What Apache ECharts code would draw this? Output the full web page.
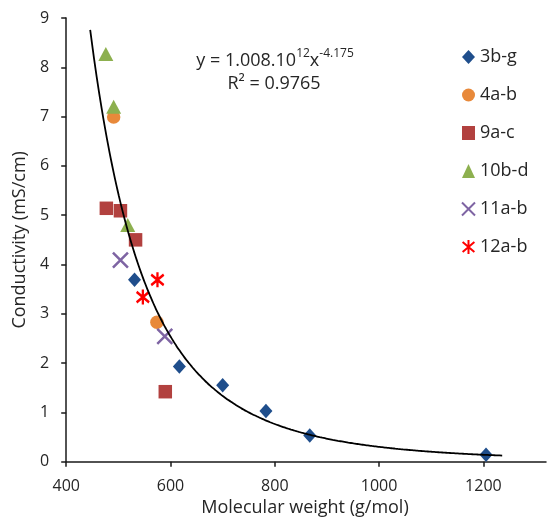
<!DOCTYPE html>
<html>
<head>
<meta charset="utf-8">
<script src="https://cdn.jsdelivr.net/npm/echarts@6/dist/echarts.min.js"></script>
<style>
  html, body { margin: 0; padding: 0; background: #fff; }
  #chart { width: 558px; height: 517px; }
</style>
</head>
<body>
<div id="chart"></div>
<script>
// Conductivity vs molecular weight, grouped by compound family
const seriesNames = ['3b-g', '4a-b', '9a-c', '10b-d', '11a-b', '12a-b'];
const data3bg  = [[531, 3.69], [617, 1.93], [700, 1.55], [783, 1.03], [867, 0.53], [1205, 0.14]];
const data4ab  = [[491, 6.99], [574, 2.83]];
const data9ac  = [[477, 5.14], [504, 5.09], [533, 4.50], [590, 1.42]];
const data10bd = [[476, 8.27], [491, 7.20], [518, 4.80]];
const data11ab = [[504, 4.09], [589, 2.54]];
const data12ab = [[575, 3.69], [547, 3.34]];

// Power-law fit y = a * x^b, as printed on the chart
const fitCoef = 1.008e12;
const fitExp = -4.175;
const fitRange = [446, 1236];
const fitR2 = '0.9765';

// Axis extents and tick labels
const xRange = [400, 1320];
const xTickValues = [400, 600, 800, 1000, 1200];
const yRange = [0, 9];
const yInterval = 1;

const fitLine = [];
for (let x = fitRange[0]; x <= fitRange[1]; x += 5) {
  fitLine.push([x, fitCoef * Math.pow(x, fitExp)]);
}

const FONT = 'Open Sans';
const TEXT = '#262626';

const xPath = 'path://M0,0L10,10M10,0L0,10';
const starPath = 'path://M5,0L5,10M0.8,1.5L9.2,8.5M9.2,1.5L0.8,8.5';

const chart = echarts.init(document.getElementById('chart'), null, { renderer: 'canvas' });

chart.setOption({
  animation: false,
  backgroundColor: '#fff',
  textStyle: { fontFamily: FONT, color: TEXT },
  grid: { left: 66.2, top: 18, right: 12, bottom: 55.3, containLabel: false },
  title: [
    {
      text: '{t|y = 1.008.10}{s|12}{t|x}{s|-4.175}',
      left: 270, top: 43, textAlign: 'center',
      textStyle: {
        fontWeight: 'normal',
        rich: {
          t: { fontFamily: FONT, fontSize: 18, fontWeight: 'normal', color: TEXT, lineHeight: 26 },
          s: { fontFamily: FONT, fontSize: 12, fontWeight: 'normal', color: TEXT, lineHeight: 14, verticalAlign: 'top' }
        }
      }
    },
    {
      text: 'R² = ' + fitR2,
      left: 269, top: 70, textAlign: 'center',
      textStyle: { fontFamily: FONT, fontSize: 18, fontWeight: 'normal', color: TEXT }
    },
    {
      text: 'Molecular weight (g/mol)',
      left: 300, top: 494, textAlign: 'center',
      textStyle: { fontFamily: FONT, fontSize: 18, fontWeight: 'normal', color: TEXT }
    }
  ],
  legend: {
    data: seriesNames,
    orient: 'vertical',
    left: 456, top: 43,
    itemWidth: 13, itemHeight: 14,
    itemGap: 20,
    textStyle: { fontFamily: FONT, fontSize: 18, color: TEXT }
  },
  xAxis: {
    type: 'value',
    min: xRange[0], max: xRange[1],
    splitLine: { show: false },
    axisLine: { onZero: false, lineStyle: { color: '#1a1a1a', width: 1.5 } },
    axisTick: { show: true, inside: false, length: 5, customValues: xTickValues,
                lineStyle: { color: '#1a1a1a', width: 1.5 } },
    axisLabel: { fontFamily: FONT, fontSize: 16, color: TEXT, margin: 17,
                 customValues: xTickValues, formatter: v => String(v) }
  },
  yAxis: {
    type: 'value',
    min: yRange[0], max: yRange[1], interval: yInterval,
    name: 'Conductivity (mS/cm)',
    nameLocation: 'middle',
    nameGap: 33,
    nameTextStyle: { fontFamily: FONT, fontSize: 18, color: TEXT },
    splitLine: { show: false },
    axisLine: { show: true, lineStyle: { color: '#1a1a1a', width: 1.5 } },
    axisTick: { show: true, inside: false, length: 5, lineStyle: { color: '#1a1a1a', width: 1.5 } },
    axisLabel: { fontFamily: FONT, fontSize: 16, color: TEXT, margin: 17 }
  },
  series: [
    {
      name: '3b-g', type: 'scatter', data: data3bg,
      symbol: 'diamond', symbolSize: [13, 14.5],
      itemStyle: { color: '#1F4E8C', opacity: 1 }
    },
    {
      name: '4a-b', type: 'scatter', data: data4ab,
      symbol: 'circle', symbolSize: 13.5,
      itemStyle: { color: '#E8893A', opacity: 1 }
    },
    {
      name: '9a-c', type: 'scatter', data: data9ac,
      symbol: 'rect', symbolSize: 13.5,
      itemStyle: { color: '#B2413F', opacity: 1 }
    },
    {
      name: '10b-d', type: 'scatter', data: data10bd,
      symbol: 'triangle', symbolSize: [15, 14],
      itemStyle: { color: '#8DB04F', opacity: 1 }
    },
    {
      name: '11a-b', type: 'scatter', data: data11ab,
      symbol: xPath, symbolSize: [15, 15],
      itemStyle: { color: '#7E64A3', borderColor: '#7E64A3', borderWidth: 2.5, opacity: 1 }
    },
    {
      name: '12a-b', type: 'scatter', data: data12ab,
      symbol: starPath, symbolSize: [12.5, 15],
      itemStyle: { color: '#FF0000', borderColor: '#FF0000', borderWidth: 2.5, opacity: 1 }
    },
    {
      name: 'fit', type: 'line', data: fitLine,
      showSymbol: false, symbol: 'none', smooth: true,
      lineStyle: { color: '#000', width: 1.8 },
      z: 5, silent: true
    }
  ]
});
</script>
</body>
</html>
